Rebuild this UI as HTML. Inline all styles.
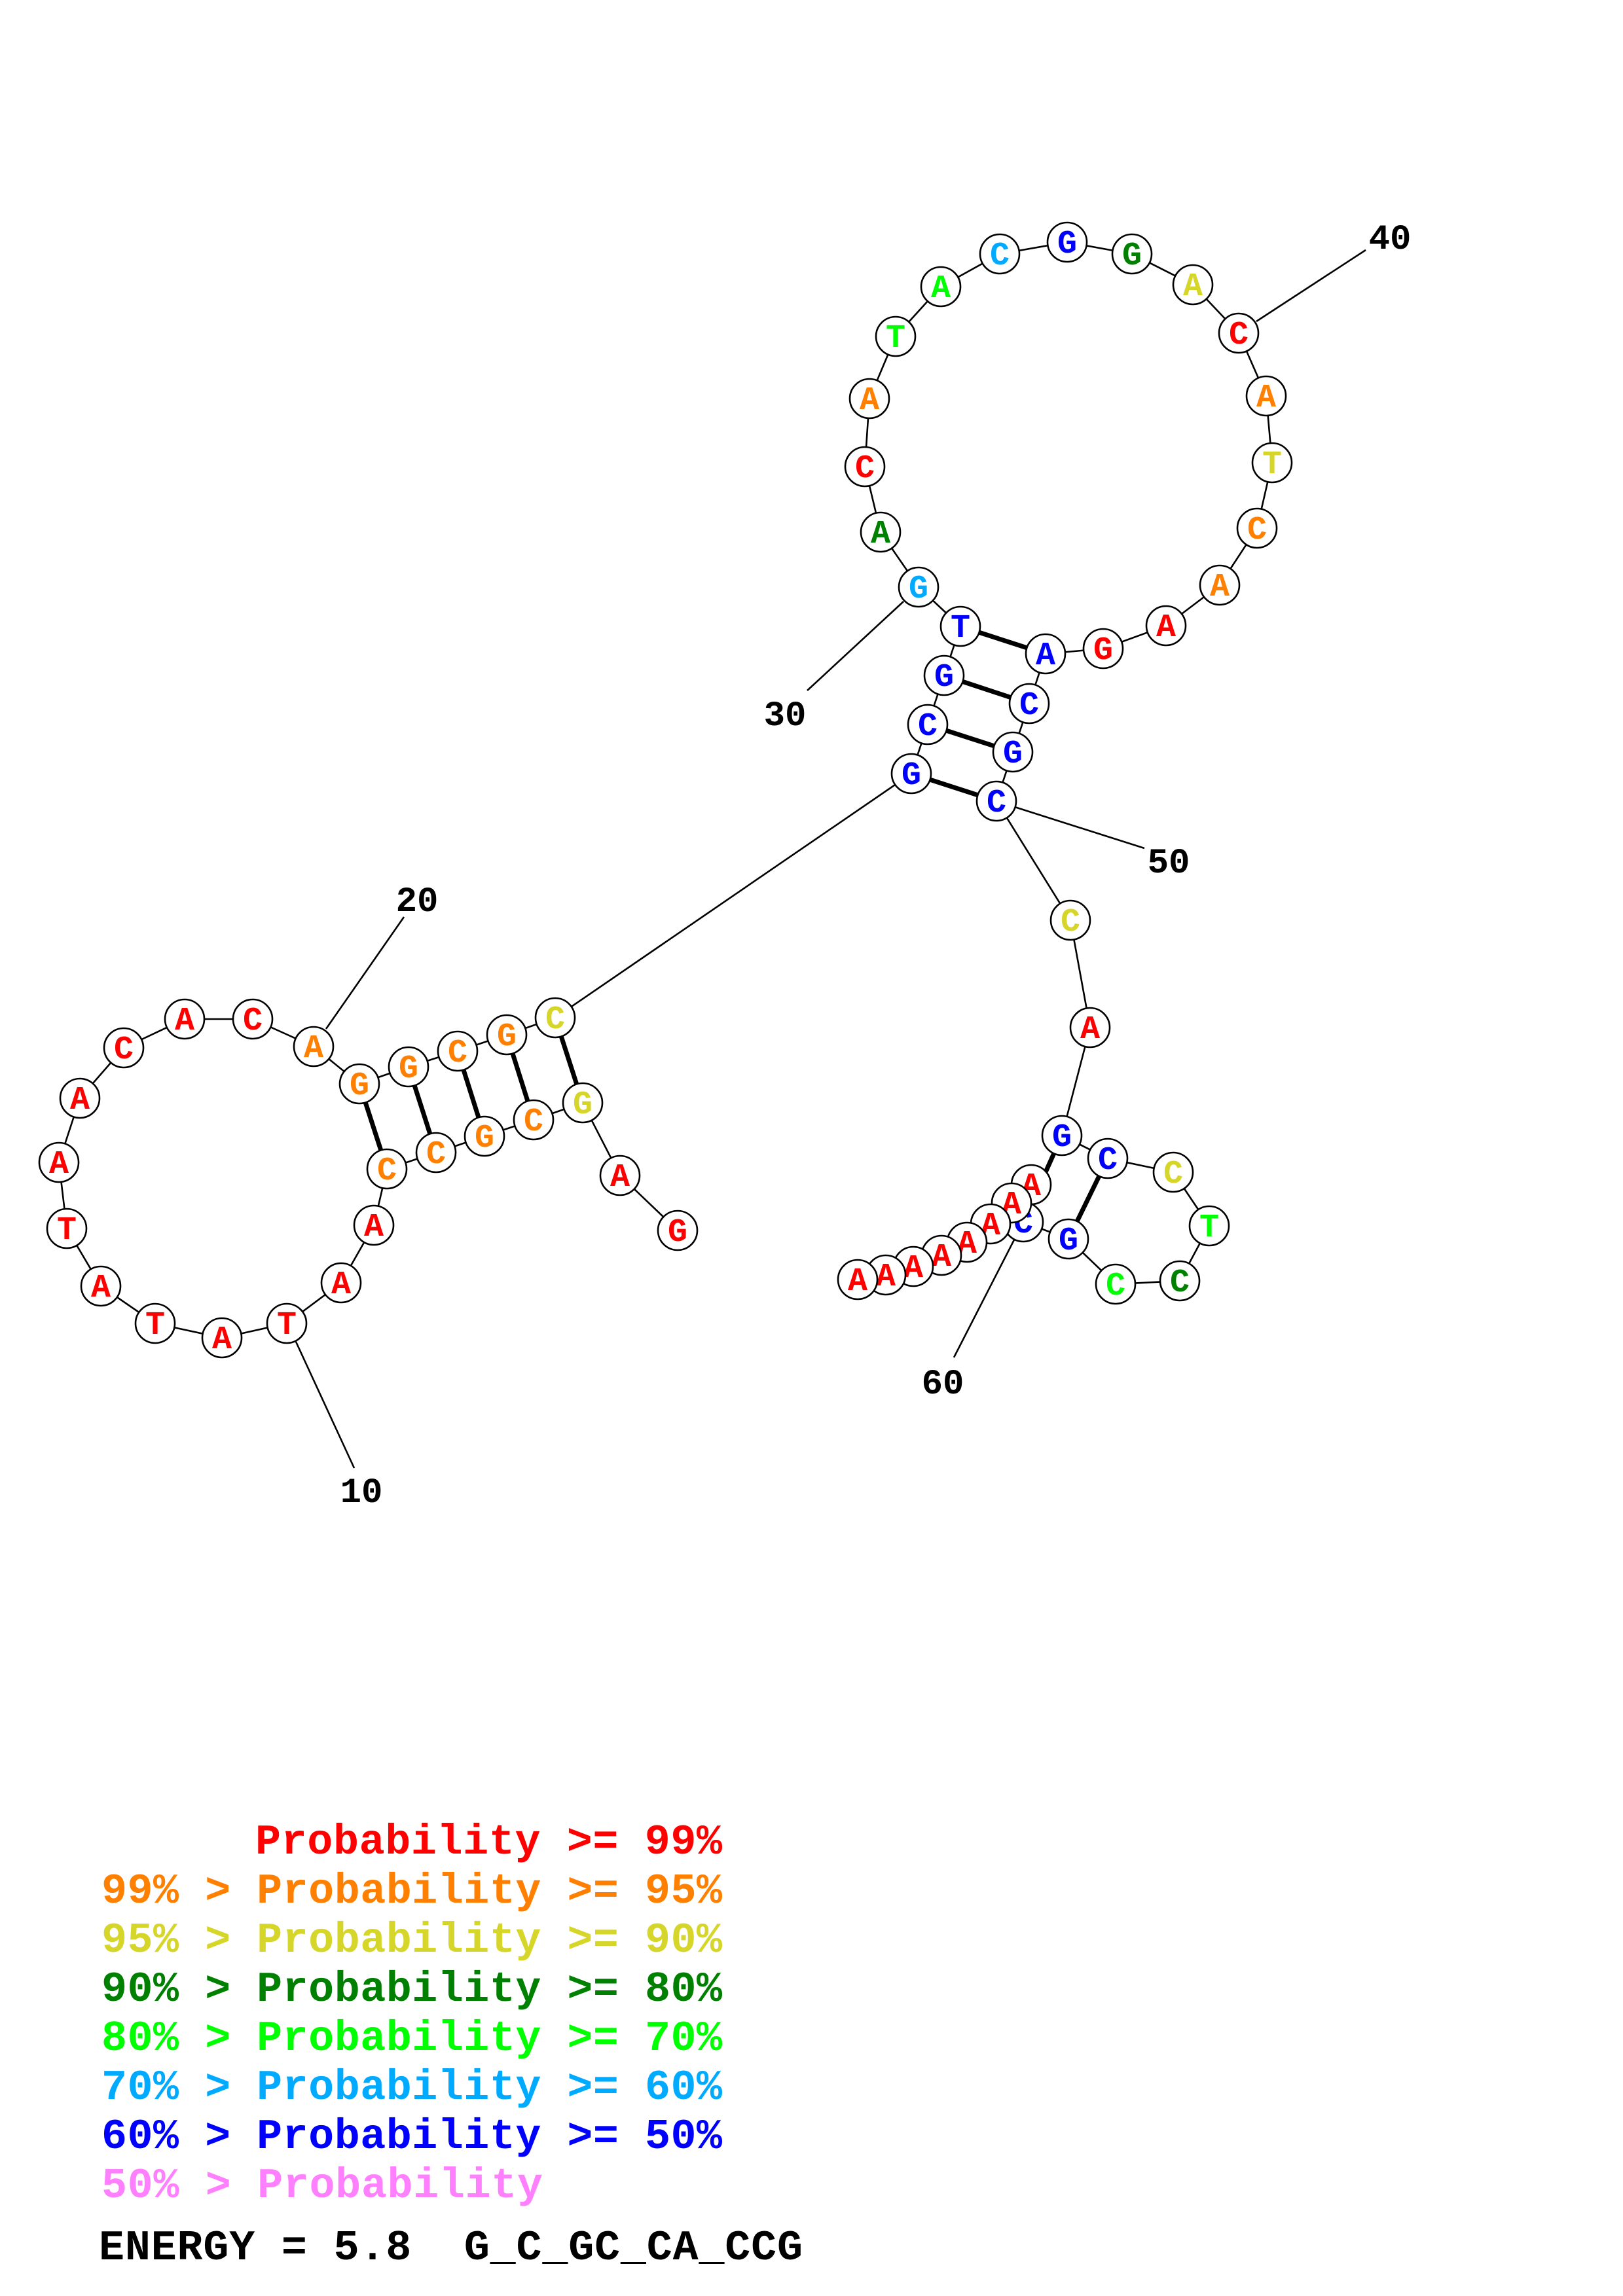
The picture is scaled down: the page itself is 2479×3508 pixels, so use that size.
<!DOCTYPE html>
<html><head><meta charset="utf-8"><style>
html,body{margin:0;padding:0;background:#fff}svg{display:block}
.nd circle{fill:#fff;stroke:#000;stroke-width:2.6}
.nd text{font-family:"Liberation Mono",monospace;font-weight:bold;font-size:50px;text-anchor:middle}
</style></head>
<body>
<svg xmlns="http://www.w3.org/2000/svg" width="2479" height="3508" viewBox="0 0 2479 3508">
<rect width="2479" height="3508" fill="#fff"/>
<polyline fill="none" stroke="#000" stroke-width="2.6" points="1035,1880 947,1796 890,1685 815,1711 740,1736 666,1761 591,1786 571,1872 521,1960 438,2022 339,2044 237,2022 154,1965 102,1877 90,1776 122,1678 189,1601 282,1557 386,1557 479,1599 549,1656 624,1630 699,1606 774,1581 848,1555 1392,1182 1417,1107 1442,1032 1467,957 1403,897 1345,813 1321,713 1328,609 1368,514 1437,438 1527,388 1630,370 1729,388 1822,435 1892,509 1934,605 1943,707 1920,807 1863,894 1781,956 1685,991 1597,999 1572,1075 1547,1149 1522,1224 1635,1406 1665,1570 1622,1735 1692,1770 1792,1791 1847,1873 1802,1957 1704,1962 1632,1893 1563,1867 1575,1810 1545,1838 1513,1870 1477,1898 1438,1918 1395,1935 1353,1948 1310,1955"/>
<g stroke="#000" stroke-width="7">
<line x1="549" y1="1656" x2="591" y2="1786"/>
<line x1="624" y1="1630" x2="666" y2="1761"/>
<line x1="699" y1="1606" x2="740" y2="1736"/>
<line x1="774" y1="1581" x2="815" y2="1711"/>
<line x1="848" y1="1555" x2="890" y2="1685"/>
<line x1="1392" y1="1182" x2="1522" y2="1224"/>
<line x1="1417" y1="1107" x2="1547" y2="1149"/>
<line x1="1442" y1="1032" x2="1572" y2="1075"/>
<line x1="1467" y1="957" x2="1597" y2="999"/>
<line x1="1622" y1="1735" x2="1563" y2="1867"/>
<line x1="1692" y1="1770" x2="1632" y2="1893"/>
</g>
<g stroke="#000" stroke-width="2.6">
<line x1="2086" y1="382" x2="1919" y2="491"/>
<line x1="1233" y1="1055" x2="1380" y2="919"/>
<line x1="1748" y1="1296" x2="1550" y2="1233"/>
<line x1="617" y1="1401" x2="498" y2="1572"/>
<line x1="541" y1="2243" x2="452" y2="2050"/>
<line x1="1457" y1="2074" x2="1563" y2="1867"/>
</g>
<g class="nd">
<circle cx="1035" cy="1880" r="30"/><text x="1035" y="1896" fill="#ff0000">G</text>
<circle cx="947" cy="1796" r="30"/><text x="947" y="1812" fill="#ff0000">A</text>
<circle cx="890" cy="1685" r="30"/><text x="890" y="1701" fill="#d6d62a">G</text>
<circle cx="815" cy="1711" r="30"/><text x="815" y="1727" fill="#ff8000">C</text>
<circle cx="740" cy="1736" r="30"/><text x="740" y="1752" fill="#ff8000">G</text>
<circle cx="666" cy="1761" r="30"/><text x="666" y="1777" fill="#ff8000">C</text>
<circle cx="591" cy="1786" r="30"/><text x="591" y="1802" fill="#ff8000">C</text>
<circle cx="571" cy="1872" r="30"/><text x="571" y="1888" fill="#ff0000">A</text>
<circle cx="521" cy="1960" r="30"/><text x="521" y="1976" fill="#ff0000">A</text>
<circle cx="438" cy="2022" r="30"/><text x="438" y="2038" fill="#ff0000">T</text>
<circle cx="339" cy="2044" r="30"/><text x="339" y="2060" fill="#ff0000">A</text>
<circle cx="237" cy="2022" r="30"/><text x="237" y="2038" fill="#ff0000">T</text>
<circle cx="154" cy="1965" r="30"/><text x="154" y="1981" fill="#ff0000">A</text>
<circle cx="102" cy="1877" r="30"/><text x="102" y="1893" fill="#ff0000">T</text>
<circle cx="90" cy="1776" r="30"/><text x="90" y="1792" fill="#ff0000">A</text>
<circle cx="122" cy="1678" r="30"/><text x="122" y="1694" fill="#ff0000">A</text>
<circle cx="189" cy="1601" r="30"/><text x="189" y="1617" fill="#ff0000">C</text>
<circle cx="282" cy="1557" r="30"/><text x="282" y="1573" fill="#ff0000">A</text>
<circle cx="386" cy="1557" r="30"/><text x="386" y="1573" fill="#ff0000">C</text>
<circle cx="479" cy="1599" r="30"/><text x="479" y="1615" fill="#ff8000">A</text>
<circle cx="549" cy="1656" r="30"/><text x="549" y="1672" fill="#ff8000">G</text>
<circle cx="624" cy="1630" r="30"/><text x="624" y="1646" fill="#ff8000">G</text>
<circle cx="699" cy="1606" r="30"/><text x="699" y="1622" fill="#ff8000">C</text>
<circle cx="774" cy="1581" r="30"/><text x="774" y="1597" fill="#ff8000">G</text>
<circle cx="848" cy="1555" r="30"/><text x="848" y="1571" fill="#d6d62a">C</text>
<circle cx="1392" cy="1182" r="30"/><text x="1392" y="1198" fill="#0000ff">G</text>
<circle cx="1417" cy="1107" r="30"/><text x="1417" y="1123" fill="#0000ff">C</text>
<circle cx="1442" cy="1032" r="30"/><text x="1442" y="1048" fill="#0000ff">G</text>
<circle cx="1467" cy="957" r="30"/><text x="1467" y="973" fill="#0000ff">T</text>
<circle cx="1403" cy="897" r="30"/><text x="1403" y="913" fill="#00aaff">G</text>
<circle cx="1345" cy="813" r="30"/><text x="1345" y="829" fill="#008000">A</text>
<circle cx="1321" cy="713" r="30"/><text x="1321" y="729" fill="#ff0000">C</text>
<circle cx="1328" cy="609" r="30"/><text x="1328" y="625" fill="#ff8000">A</text>
<circle cx="1368" cy="514" r="30"/><text x="1368" y="530" fill="#00ff00">T</text>
<circle cx="1437" cy="438" r="30"/><text x="1437" y="454" fill="#00ff00">A</text>
<circle cx="1527" cy="388" r="30"/><text x="1527" y="404" fill="#00aaff">C</text>
<circle cx="1630" cy="370" r="30"/><text x="1630" y="386" fill="#0000ff">G</text>
<circle cx="1729" cy="388" r="30"/><text x="1729" y="404" fill="#008000">G</text>
<circle cx="1822" cy="435" r="30"/><text x="1822" y="451" fill="#d6d62a">A</text>
<circle cx="1892" cy="509" r="30"/><text x="1892" y="525" fill="#ff0000">C</text>
<circle cx="1934" cy="605" r="30"/><text x="1934" y="621" fill="#ff8000">A</text>
<circle cx="1943" cy="707" r="30"/><text x="1943" y="723" fill="#d6d62a">T</text>
<circle cx="1920" cy="807" r="30"/><text x="1920" y="823" fill="#ff8000">C</text>
<circle cx="1863" cy="894" r="30"/><text x="1863" y="910" fill="#ff8000">A</text>
<circle cx="1781" cy="956" r="30"/><text x="1781" y="972" fill="#ff0000">A</text>
<circle cx="1685" cy="991" r="30"/><text x="1685" y="1007" fill="#ff0000">G</text>
<circle cx="1597" cy="999" r="30"/><text x="1597" y="1015" fill="#0000ff">A</text>
<circle cx="1572" cy="1075" r="30"/><text x="1572" y="1091" fill="#0000ff">C</text>
<circle cx="1547" cy="1149" r="30"/><text x="1547" y="1165" fill="#0000ff">G</text>
<circle cx="1522" cy="1224" r="30"/><text x="1522" y="1240" fill="#0000ff">C</text>
<circle cx="1635" cy="1406" r="30"/><text x="1635" y="1422" fill="#d6d62a">C</text>
<circle cx="1665" cy="1570" r="30"/><text x="1665" y="1586" fill="#ff0000">A</text>
<circle cx="1622" cy="1735" r="30"/><text x="1622" y="1751" fill="#0000ff">G</text>
<circle cx="1692" cy="1770" r="30"/><text x="1692" y="1786" fill="#0000ff">C</text>
<circle cx="1792" cy="1791" r="30"/><text x="1792" y="1807" fill="#d6d62a">C</text>
<circle cx="1847" cy="1873" r="30"/><text x="1847" y="1889" fill="#00ff00">T</text>
<circle cx="1802" cy="1957" r="30"/><text x="1802" y="1973" fill="#008000">C</text>
<circle cx="1704" cy="1962" r="30"/><text x="1704" y="1978" fill="#00ff00">C</text>
<circle cx="1632" cy="1893" r="30"/><text x="1632" y="1909" fill="#0000ff">G</text>
<circle cx="1563" cy="1867" r="30"/><text x="1563" y="1883" fill="#0000ff">C</text>
<circle cx="1575" cy="1810" r="30"/><text x="1575" y="1826" fill="#ff0000">A</text>
<circle cx="1545" cy="1838" r="30"/><text x="1545" y="1854" fill="#ff0000">A</text>
<circle cx="1513" cy="1870" r="30"/><text x="1513" y="1886" fill="#ff0000">A</text>
<circle cx="1477" cy="1898" r="30"/><text x="1477" y="1914" fill="#ff0000">A</text>
<circle cx="1438" cy="1918" r="30"/><text x="1438" y="1934" fill="#ff0000">A</text>
<circle cx="1395" cy="1935" r="30"/><text x="1395" y="1951" fill="#ff0000">A</text>
<circle cx="1353" cy="1948" r="30"/><text x="1353" y="1964" fill="#ff0000">A</text>
<circle cx="1310" cy="1955" r="30"/><text x="1310" y="1971" fill="#ff0000">A</text>
</g>
<g font-family="Liberation Mono, monospace" font-weight="bold" font-size="54" text-anchor="middle" fill="#000">
<text x="2123" y="380">40</text>
<text x="1199" y="1108">30</text>
<text x="1785" y="1333">50</text>
<text x="637" y="1392">20</text>
<text x="552" y="2295">10</text>
<text x="1440" y="2129">60</text>
</g>
<g font-family="Liberation Mono, monospace" font-weight="bold" font-size="65">
<text x="390" y="2832" fill="#ff0000" textLength="713" lengthAdjust="spacing">Probability &gt;= 99%</text>
<text x="155" y="2907" fill="#ff8000" textLength="948" lengthAdjust="spacing">99% &gt; Probability &gt;= 95%</text>
<text x="155" y="2982" fill="#d6d62a" textLength="948" lengthAdjust="spacing">95% &gt; Probability &gt;= 90%</text>
<text x="155" y="3057" fill="#008000" textLength="948" lengthAdjust="spacing">90% &gt; Probability &gt;= 80%</text>
<text x="155" y="3132" fill="#00ff00" textLength="948" lengthAdjust="spacing">80% &gt; Probability &gt;= 70%</text>
<text x="155" y="3207" fill="#00aaff" textLength="948" lengthAdjust="spacing">70% &gt; Probability &gt;= 60%</text>
<text x="155" y="3282" fill="#0000ff" textLength="948" lengthAdjust="spacing">60% &gt; Probability &gt;= 50%</text>
<text x="155" y="3357" fill="#ff80ff" textLength="674" lengthAdjust="spacing">50% &gt; Probability</text>
<text x="151" y="3452" fill="#000" textLength="1075" lengthAdjust="spacing">ENERGY = 5.8&#160;&#160;G_C_GC_CA_CCG</text>
</g>
</svg>
</body></html>
